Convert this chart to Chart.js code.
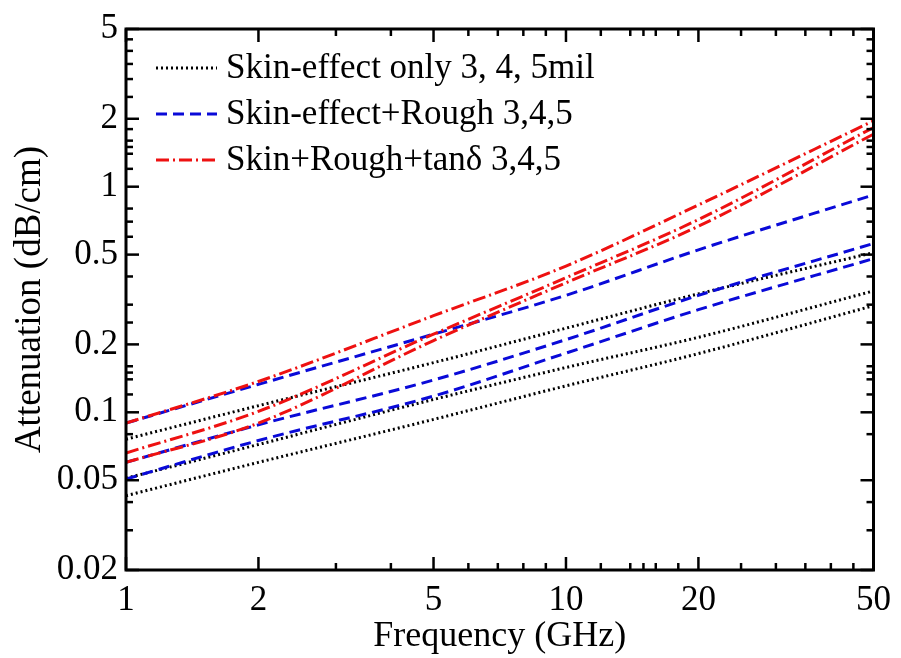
<!DOCTYPE html>
<html>
<head>
<meta charset="utf-8">
<script src="https://cdn.jsdelivr.net/npm/chart.js@4/dist/chart.umd.min.js"></script>
<style>
html,body{margin:0;padding:0;background:#fff;}
#wrap{width:901px;height:658px;}
</style>
</head>
<body>
<div id="wrap"><canvas id="c" width="901" height="658"></canvas></div>
<script>
// ---- data ----
const freqGHz = [1, 2, 5, 10, 20, 50];

const skin3 = [0.076, 0.107, 0.166, 0.236, 0.335, 0.51];
const skin4 = [0.051, 0.072, 0.114, 0.158, 0.215, 0.345];
const skin5 = [0.0427, 0.060, 0.093, 0.131, 0.182, 0.297];

const rough3 = [0.0896, 0.133, 0.222, 0.33, 0.525, 0.92];
const rough4 = [0.060, 0.088, 0.139, 0.21, 0.33, 0.56];
const rough5 = [0.0506, 0.075, 0.118, 0.183, 0.285, 0.48];

const tand3 = [0.0896, 0.137, 0.268, 0.445, 0.83, 1.96];
const tand4 = [0.066, 0.101, 0.222, 0.395, 0.715, 1.83];
const tand5 = [0.060, 0.0896, 0.208, 0.375, 0.668, 1.71];

const legendLabels = ['Skin-effect only 3, 4, 5mil', 'Skin-effect+Rough 3,4,5', 'Skin+Rough+tan\u03b4 3,4,5'];

const xMajorTicks = [1, 2, 5, 10, 20, 50];
const xMinorTicks = [3, 4, 6, 7, 8, 9, 12, 14, 15, 16, 18, 25, 30, 35, 40, 45];
const yMajorTicks = [0.02, 0.05, 0.1, 0.2, 0.5, 1, 2, 5];
const yMinorTicks = [0.03, 0.04, 0.08, 0.12, 0.14, 0.15, 0.16, 0.25, 0.3, 0.4, 0.6, 0.7, 0.8, 1.2, 1.4, 1.5, 1.6, 1.8, 2.5, 3, 3.5, 4, 4.5];

// ---- styles ----
const RED = '#ee1111', BLUE = '#0a0ad8', BLACK = '#000000';
const styles = {
  tand:  {color: RED,   dash: [13, 4, 2, 4], width: 3},
  rough: {color: BLUE,  dash: [11, 6],       width: 3},
  skin:  {color: BLACK, dash: [2, 3],        width: 3}
};
const FONT = '"Liberation Serif", "Times New Roman", serif';

function ds(arr, st, group) {
  return {
    label: group,
    data: freqGHz.map((f, i) => ({x: f, y: arr[i]})),
    borderColor: st.color,
    borderDash: st.dash,
    borderWidth: st.width,
    pointRadius: 0,
    fill: false,
    cubicInterpolationMode: 'monotone'
  };
}

const datasets = [
  ds(tand3, styles.tand, 2), ds(tand4, styles.tand, 2), ds(tand5, styles.tand, 2),
  ds(rough3, styles.rough, 1), ds(rough4, styles.rough, 1), ds(rough5, styles.rough, 1),
  ds(skin3, styles.skin, 0), ds(skin4, styles.skin, 0), ds(skin5, styles.skin, 0)
];

const framePlugin = {
  id: 'frame',
  afterDraw(chart) {
    const {ctx, chartArea: a, scales: {x, y}} = chart;
    ctx.save();
    ctx.strokeStyle = '#000';
    ctx.lineWidth = 2.5;
    ctx.setLineDash([]);
    const seg = (x1, y1, x2, y2) => { ctx.beginPath(); ctx.moveTo(x1, y1); ctx.lineTo(x2, y2); ctx.stroke(); };
    const MAJ = 13, MIN = 7;
    xMajorTicks.concat(xMinorTicks).forEach(v => {
      const L = xMajorTicks.includes(v) ? MAJ : MIN;
      const px = x.getPixelForValue(v);
      seg(px, a.bottom, px, a.bottom - L);
      seg(px, a.top, px, a.top + L);
    });
    yMajorTicks.concat(yMinorTicks).forEach(v => {
      const L = yMajorTicks.includes(v) ? MAJ : MIN;
      const py = y.getPixelForValue(v);
      seg(a.left, py, a.left + L, py);
      seg(a.right, py, a.right - L, py);
    });
    ctx.lineWidth = 3;
    ctx.strokeRect(a.left, a.top, a.right - a.left, a.bottom - a.top);

    // legend
    const rows = [68, 114, 160];
    const order = [styles.skin, styles.rough, styles.tand];
    ctx.font = '35px ' + FONT;
    ctx.textBaseline = 'middle';
    ctx.textAlign = 'left';
    rows.forEach((ry, i) => {
      const st = order[i];
      ctx.strokeStyle = st.color;
      ctx.lineWidth = st.width;
      ctx.setLineDash(st.dash);
      seg(156, ry, 217, ry);
      ctx.setLineDash([]);
      ctx.fillStyle = '#000';
      ctx.fillText(legendLabels[i], 226, ry + 1);
    });
    ctx.restore();
  }
};

new Chart(document.getElementById('c'), {
  type: 'line',
  data: {datasets},
  options: {
    responsive: false,
    animation: false,
    layout: {padding: {left: 0, top: 24, right: 21, bottom: 0}},
    plugins: {legend: {display: false}, tooltip: {enabled: false}},
    scales: {
      x: {
        type: 'logarithmic',
        min: 1, max: 50,
        position: 'bottom',
        afterBuildTicks: s => { s.ticks = xMajorTicks.map(v => ({value: v})); },
        afterFit: s => { s.height = 88; },
        grid: {display: false, drawTicks: false},
        border: {display: false},
        ticks: {
          autoSkip: false, maxRotation: 0, padding: 10,
          color: '#000', font: {family: FONT, size: 35},
          callback: v => String(v)
        },
        title: {display: true, text: 'Frequency (GHz)', color: '#000',
                font: {family: FONT, size: 36}, padding: {top: 0, bottom: 0}}
      },
      y: {
        type: 'logarithmic',
        min: 0.02, max: 5,
        afterBuildTicks: s => { s.ticks = yMajorTicks.map(v => ({value: v})); },
        afterFit: s => { s.width = 126; },
        grid: {display: false, drawTicks: false},
        border: {display: false},
        ticks: {
          autoSkip: false, padding: 8,
          color: '#000', font: {family: FONT, size: 35},
          callback: v => String(v)
        },
        title: {display: true, text: 'Attenuation (dB/cm)', color: '#000',
                font: {family: FONT, size: 37}, padding: {top: 8, bottom: 0}}
      }
    }
  },
  plugins: [framePlugin]
});
</script>
</body>
</html>
